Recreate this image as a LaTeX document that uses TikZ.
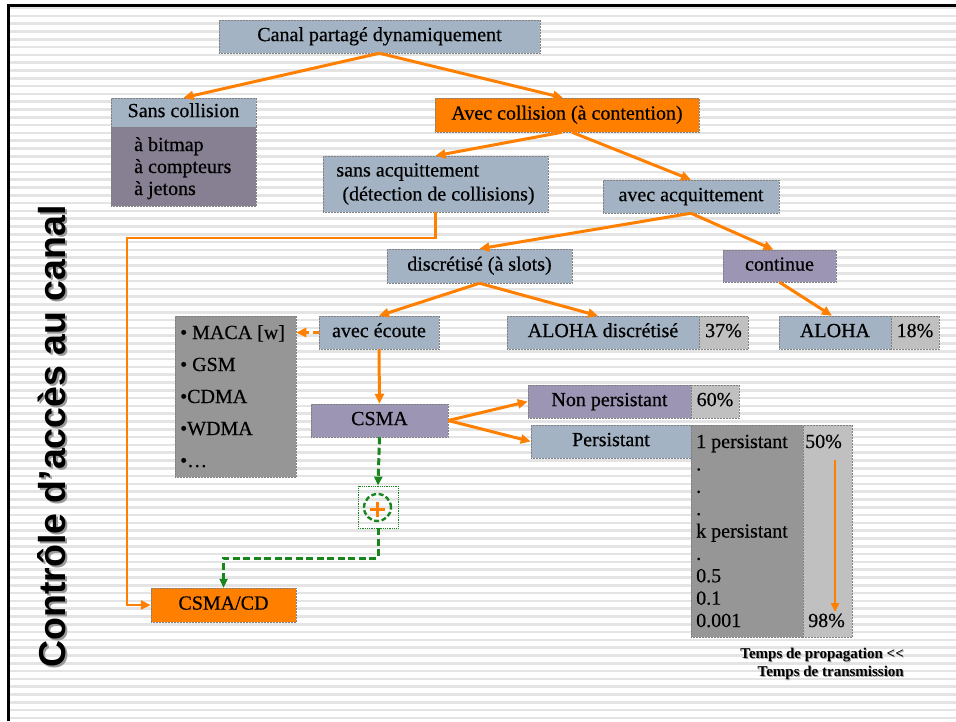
\documentclass[tikz,border=0pt]{standalone}
\usepackage{fontspec}
\setmainfont{Liberation Serif}
\newfontfamily\boxfont{Liberation Serif}[FakeBold=0.5]
\newfontfamily\titlefont{Liberation Sans}
\usetikzlibrary{arrows.meta}
\definecolor{bblue}{HTML}{A3B3C3}
\definecolor{bmauve}{HTML}{9C95B4}
\definecolor{bdark}{HTML}{868092}
\definecolor{bgrey}{HTML}{969696}
\definecolor{blight}{HTML}{C0C0C0}
\definecolor{borange}{HTML}{FF8000}
\definecolor{bgreen}{HTML}{18861C}
\definecolor{stripe}{HTML}{E4E4E4}
\begin{document}
\begin{tikzpicture}[x=1pt,y=-1pt,
 box/.style={draw=black!50, densely dotted, line width=0.5pt, inner sep=0pt,
   font=\boxfont\fontsize{20}{24}\selectfont, anchor=center},
 box1/.style={box, text height=13.6pt, text depth=4.4pt},
 lbl/.style={inner sep=0pt, font=\boxfont\fontsize{20}{24}\selectfont, anchor=base west},
 arr/.style={draw=borange, line width=3pt, -{Triangle[length=10pt,width=9pt]}},
 garr/.style={draw=bgreen, line width=3pt, dash pattern=on 7pt off 3.5pt, -{Triangle[length=9pt,width=8pt]}}
]
\useasboundingbox (0,0) rectangle (956,721);
% background stripes
\foreach \yy in {8,15.8,...,720} \draw[stripe, line width=2.6pt] (10,\yy) -- (956,\yy);
% frame
\draw[line width=3pt] (8.5,721) -- (8.5,5.5) -- (956,5.5);

% title
\node[font=\titlefont\bfseries\fontsize{37.5}{40}\selectfont, rotate=90, anchor=base, text=black!40, inner sep=0pt] (titsh) at (67,438.5) {Contrôle d’accès au canal};
\node[font=\titlefont\bfseries\fontsize{37.5}{40}\selectfont, rotate=90, anchor=base, text=black, inner sep=0pt] (tit) at (65,436.5) {Contrôle d’accès au canal};

% boxes
\node[box1, fill=bblue, minimum width=321, minimum height=33] (canal) at (379.5,36.5) {Canal partagé dynamiquement};
\node[box1, fill=bblue, minimum width=145, minimum height=29] (sansc) at (183.5,112.5) {Sans collision};
\node[box, fill=bdark, minimum width=145, minimum height=79] (sbody) at (183.5,166.5) {};
\foreach \t/\yy [count=\i] in {à bitmap/151, à compteurs/173, à jetons/195}
  \node[lbl] (s\i) at (134,\yy) {\t};
\node[box1, fill=borange, minimum width=264, minimum height=34] (avecc) at (567,115) {Avec collision (à contention)};
\node[box, fill=bblue, minimum width=225, minimum height=56, align=left] (sansa) at (435.5,184) {sans acquittement\\\hspace*{6pt}(détection de collisions)};
\node[box1, fill=bblue, minimum width=176, minimum height=33] (avaq) at (691,196.5) {avec acquittement};
\node[box1, fill=bblue, minimum width=185, minimum height=34] (discr) at (479.5,266) {discrétisé (à slots)};
\node[box1, fill=bmauve, minimum width=113, minimum height=32] (cont) at (779.5,266) {continue};
\node[box1, fill=bblue, minimum width=120, minimum height=33] (ecoute) at (379,332.5) {avec écoute};
\node[box, fill=bgrey, minimum width=121, minimum height=161] (maca) at (235.5,396.5) {};
\foreach \t/\yy [count=\i] in {• MACA [w]/339, • GSM/371, •CDMA/403, •WDMA/435, •…/467}
  \node[lbl] (m\i) at (180,\yy) {\t};
\node[box1, fill=bblue, minimum width=192, minimum height=33] (alohad) at (603,332.5) {ALOHA discrétisé};
\node[box1, fill=blight, minimum width=49, minimum height=33] (p37) at (723.5,332.5) {37\%};
\node[box1, fill=bblue, minimum width=112, minimum height=33] (aloha) at (835,332.5) {ALOHA};
\node[box1, fill=blight, minimum width=48, minimum height=33] (p18) at (915,332.5) {18\%};
\node[box1, fill=bmauve, minimum width=137, minimum height=33] (csma) at (379.5,420.5) {CSMA};
\node[box1, fill=bmauve, minimum width=163, minimum height=33] (nonp) at (609.5,401.5) {Non persistant};
\node[box1, fill=blight, minimum width=48, minimum height=33] (p60) at (715,401.5) {60\%};
\node[box1, fill=bblue, minimum width=160, minimum height=33] (pers) at (611,441.5) {Persistant};
\node[box, fill=bgrey, minimum width=112, minimum height=212] (pcol) at (747,531) {};
\node[box, fill=blight, minimum width=49, minimum height=212] (pctcol) at (827.5,531) {};
\foreach \t [count=\i] in {1 persistant, ., ., ., k persistant, ., 0.5, 0.1, 0.001}
  \node[lbl] (q\i) at (696,{448+22.375*(\i-1)}) {\t};
\node[lbl] (p50) at (805,448) {50\%};
\node[lbl] (p98) at (808,627) {98\%};
\node[box1, fill=borange, minimum width=145, minimum height=34] (csmacd) at (223.5,605) {CSMA/CD};

% plus box
\node[draw=bgreen, densely dotted, line width=0.8pt, minimum width=40, minimum height=42, inner sep=0pt] (plusbox) at (378,507) {};
\node[circle, draw=bgreen, line width=2.4pt, dash pattern=on 5pt off 2.5pt, minimum size=27, inner sep=0pt] (pc) at (377.5,507.5) {};
\draw[borange, line width=2.4pt] ([xshift=-7.5pt,yshift=-2pt]pc.center) -- ([xshift=7.5pt,yshift=-2pt]pc.center);
\draw[borange, line width=2.4pt] ([yshift=5.5pt]pc.center) -- ([yshift=-9.5pt]pc.center);

% note
\node[font=\bfseries\fontsize{15}{18}\selectfont, anchor=base east, inner sep=0pt, text=black!35] (tpsh) at (905,659) {Temps de propagation <{}<};
\node[font=\bfseries\fontsize{15}{18}\selectfont, anchor=base east, inner sep=0pt, text=black!35] (ttsh) at (905,677) {Temps de transmission};
\node[font=\bfseries\fontsize{15}{18}\selectfont, anchor=base east, inner sep=0pt] (tp) at (904,658) {Temps de propagation <{}<};
\node[font=\bfseries\fontsize{15}{18}\selectfont, anchor=base east, inner sep=0pt] (tt) at (904,676) {Temps de transmission};

% connectors
\draw[arr] (canal.south) -- (sansc.north);
\draw[arr] (canal.south) -- ([xshift=-4pt]avecc.north);
\draw[arr] ([xshift=-5pt]avecc.south) -- (sansa.north);
\draw[arr] ([xshift=5pt]avecc.south) -- (avaq.north);
\draw[arr] (avaq.south) -- (discr.north);
\draw[arr] (avaq.south) -- ([xshift=-6pt]cont.north);
\draw[arr] (discr.south) -- (ecoute.north);
\draw[arr] (discr.south) -- ([xshift=-5pt]alohad.north);
\draw[arr] (cont.south) -- ([xshift=-3pt]aloha.north);
\draw[arr, line width=3.5pt, dash pattern=on 6pt off 4pt] (ecoute.west) -- (maca.east |- ecoute.west);
\draw[arr] (ecoute.south) -- (csma.north);
\draw[arr] (csma.east) -- (nonp.west);
\draw[arr] (csma.east) -- (pers.west);
\coordinate (c1) at (127,238);
\draw[arr, line width=2.7pt] (sansa.south) |- (c1) |- (csmacd.west);
\coordinate (pa1) at (835,460);
\coordinate (pa2) at (835,612);
\draw[draw=borange, line width=2.3pt, -{Triangle[length=9pt,width=8pt]}] (pa1) -- (pa2);
\draw[garr] (csma.south) -- (plusbox.north);
\coordinate (g1) at (223.5,558);
\draw[garr] (plusbox.south) |- (g1) -- (csmacd.north);
\end{tikzpicture}
\end{document}
